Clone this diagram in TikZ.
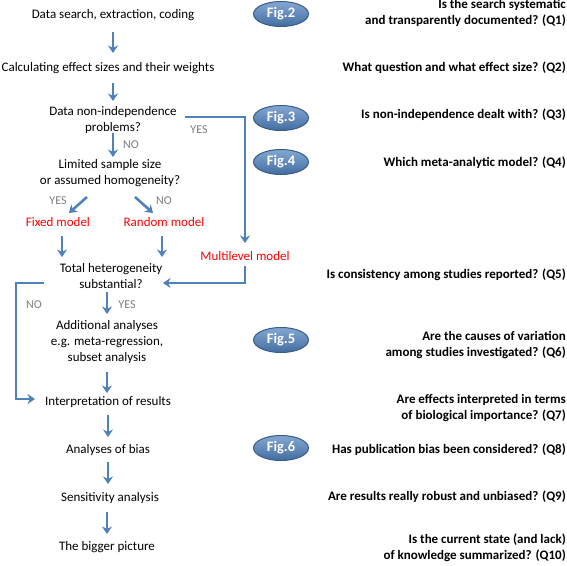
\documentclass[tikz,border=0pt]{standalone}
\usepackage{fontspec}
\setmainfont{Carlito}
\usetikzlibrary{arrows.meta,shapes.geometric}
\definecolor{ablue}{HTML}{4F81BD}
\definecolor{dblue}{HTML}{385D8A}
\definecolor{lgray}{HTML}{7F7F7F}
\definecolor{rtxt}{HTML}{FF0000}
\begin{document}
\begin{tikzpicture}[x=1pt,y=-1pt,
  txt/.style={font=\fontsize{13}{16}\selectfont, align=center, inner sep=0pt},
  redtxt/.style={txt, text=rtxt},
  qtxt/.style={font=\fontsize{13}{16}\selectfont\bfseries, align=right, inner sep=0pt, anchor=east},
  lab/.style={font=\fontsize{12}{13}\selectfont, text=lgray, inner sep=0pt},
  fig/.style={ellipse, draw=dblue, line width=1pt, top color=ablue!70!white, bottom color=ablue!85!black, minimum width=55pt, minimum height=25pt, inner sep=0pt, font=\fontsize{14.5}{14.5}\selectfont\bfseries, text=white},
  arr/.style={draw=ablue, line width=2.6pt, -{Stealth[length=7.5pt,width=10pt]}}
]
\fill[white] (0,0) rectangle (567,565);
\useasboundingbox (0,0) rectangle (567,565);

% left column
\node[txt] (n1) at (113,15) {Data search, extraction, coding};
\node[txt] (n2) at (108,68) {Calculating effect sizes and their weights};
\node[txt] (n3) at (113,120) {Data non-independence\\problems?};
\node[txt] (n4) at (110,173) {Limited sample size\\or assumed homogeneity?};
\node[redtxt] (fixed) at (58,222) {Fixed model};
\node[redtxt] (random) at (164,222) {Random model};
\node[redtxt] (multi) at (245,256) {Multilevel model};
\node[txt] (n5) at (111,276) {Total heterogeneity\\substantial?};
\node[txt] (n6) at (107,342) {Additional analyses\\e.g. meta-regression,\\subset analysis};
\node[txt] (n7) at (108,402) {Interpretation of results};
\node[txt] (n8) at (108,450) {Analyses of bias};
\node[txt] (n9) at (110,498) {Sensitivity analysis};
\node[txt] (n10) at (107,547) {The bigger picture};

% branch labels
\node[lab] (yes1) at (199,130) {YES};
\node[lab] (no1) at (131,145) {NO};
\node[lab] (yes2) at (58,201) {YES};
\node[lab] (no2) at (164,201) {NO};
\node[lab] (no3) at (34,305) {NO};
\node[lab] (yes3) at (127,305) {YES};

% figure ellipses
\node[fig] (f2) at (281,14) {Fig.2};
\node[fig] (f3) at (281,118) {Fig.3};
\node[fig] (f4) at (281,162) {Fig.4};
\node[fig] (f5) at (281,340) {Fig.5};
\node[fig] (f6) at (281,448) {Fig.6};

% questions
\node[qtxt] (q1) at (566,13) {Is the search systematic\\and transparently documented? (Q1)};
\node[qtxt] (q2) at (566,68) {What question and what effect size? (Q2)};
\node[qtxt] (q3) at (566,115) {Is non-independence dealt with? (Q3)};
\node[qtxt] (q4) at (566,163) {Which meta-analytic model? (Q4)};
\node[qtxt] (q5) at (566,275) {Is consistency among studies reported? (Q5)};
\node[qtxt] (q6) at (566,345) {Are the causes of variation\\among studies investigated? (Q6)};
\node[qtxt] (q7) at (566,408) {Are effects interpreted in terms\\of biological importance? (Q7)};
\node[qtxt] (q8) at (566,450) {Has publication bias been considered? (Q8)};
\node[qtxt] (q9) at (566,497) {Are results really robust and unbiased? (Q9)};
\node[qtxt] (q10) at (566,548) {Is the current state (and lack)\\of knowledge summarized? (Q10)};

% connectors
\draw[arr, shorten <=17pt, shorten >=15pt] (n1.center) -- (n1.center |- n2.center);
\draw[arr, shorten <=15pt, shorten >=19pt] (n2.center -| n3.center) -- (n3.center);
\draw[arr, shorten <=13pt, shorten >=16pt] (n3.center) -- (n3.center |- n4.center);
\draw[arr] ([xshift=-23pt,yshift=-24pt]n4.center) -- ([xshift=11pt,yshift=9pt]fixed.center);
\draw[arr] ([xshift=25pt,yshift=-24pt]n4.center) -- ([xshift=-11pt,yshift=9pt]random.center);
\draw[arr, shorten <=14pt, shorten >=19pt] ([xshift=4pt]fixed.center) -- ([xshift=4pt]fixed.center |- n5.center);
\draw[arr, shorten <=14pt, shorten >=19pt] ([xshift=-2pt]random.center) -- ([xshift=-2pt]random.center |- n5.center);
\draw[arr, shorten >=13pt] ([xshift=72pt,yshift=3pt]n3.center) -| (multi.center);
\draw[arr, shorten <=10pt] (multi.center) |- ([xshift=52pt,yshift=-7pt]n5.center);
\draw[arr] ([xshift=-67pt,yshift=-7pt]n5.center) -- ++(-28,0) |- ([xshift=-73pt,yshift=3pt]n7.center);
\draw[arr, shorten <=16pt, shorten >=28pt] (n6.center |- n5.center) -- (n6.center);
\draw[arr, shorten <=30pt, shorten >=9pt] (n6.center) -- (n6.center |- n7.center);
\draw[arr, shorten <=13pt, shorten >=13pt] (n7.center) -- (n7.center |- n8.center);
\draw[arr, shorten <=12pt, shorten >=14pt] (n8.center) -- (n8.center |- n9.center);
\draw[arr, shorten <=14pt, shorten >=13pt] (n10.center |- n9.center) -- (n10.center);
\end{tikzpicture}
\end{document}
